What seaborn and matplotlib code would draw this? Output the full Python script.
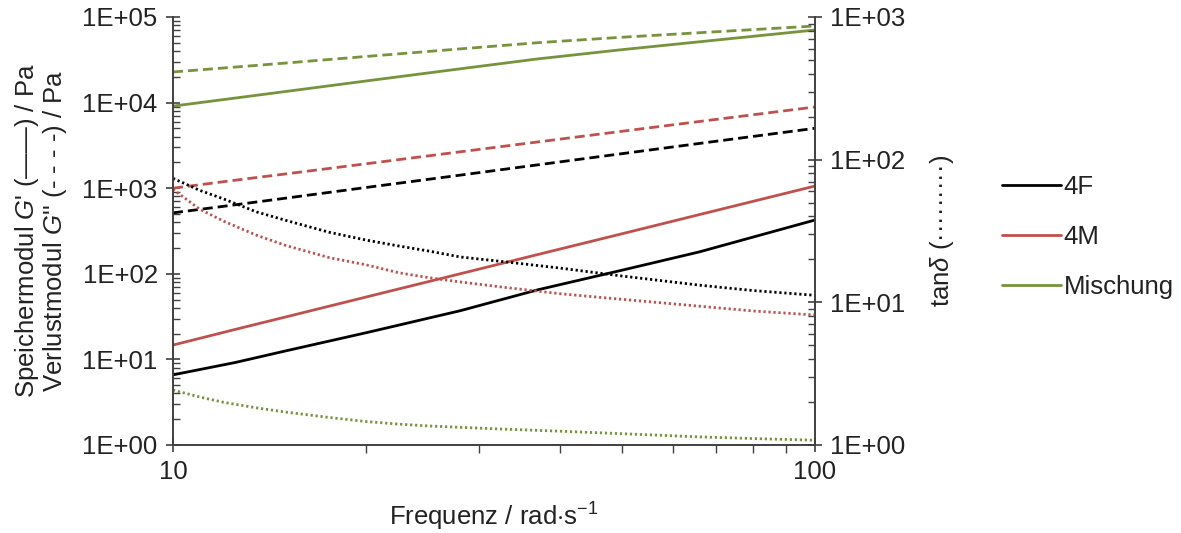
import numpy as np
import pandas as pd
import matplotlib
matplotlib.use("Agg")
import matplotlib.pyplot as plt
from matplotlib.lines import Line2D
from matplotlib.ticker import FixedLocator, FuncFormatter, LogLocator, NullFormatter
import seaborn as sns

# values (log-log)
probes = ["4F", "4M", "Mischung"]

freq = [10, 12.5, 15, 20, 28, 37, 50, 66, 100]
g1_4f = [6.6, 9.2, 12.6, 20.5, 37, 65, 110, 180, 425]
g1_4m = [14.7, 22.4, 31.4, 53.6, 100, 168, 293, 491, 1060]
g1_mix = [9100, 11300, 13500, 17900, 24800, 32400, 41500, 51300, 70500]
g2_4f = [515, 640, 766, 1020, 1420, 1875, 2530, 3330, 5010]
g2_4m = [1000, 1240, 1470, 1930, 2660, 3470, 4620, 6010, 8890]
g2_mix = [22800, 26000, 29000, 34600, 42400, 50100, 58000, 65500, 78500]

freq_tan = [10, 11, 12, 13.5, 15, 17.5, 20, 22.5, 25, 28, 33, 40, 50, 66, 80, 100]
tan_4f = [74, 61, 53, 43, 37.5, 31, 27.3, 24.8, 22.9, 20.8, 19.2, 17.4, 15.3, 13.2, 12.1, 11.2]
tan_4m = [62, 45, 37, 29.5, 25, 20.6, 18.3, 16.1, 14.9, 13.9, 12.7, 11.5, 10.5, 9.4, 8.7, 8.15]
tan_mix = [2.43, 2.17, 1.99, 1.82, 1.70, 1.56, 1.46, 1.40, 1.36, 1.33, 1.29, 1.25, 1.20, 1.14, 1.11, 1.08]

colors = {"4F": "#000000", "4M": "#c0504d", "Mischung": "#77933c"}


def long_df(x, a, b, c):
    return pd.DataFrame({
        "freq": x * 3,
        "wert": a + b + c,
        "probe": [p for p in probes for _ in x],
    })


df_g1 = long_df(freq, g1_4f, g1_4m, g1_mix)
df_g2 = long_df(freq, g2_4f, g2_4m, g2_mix)
df_tan = long_df(freq_tan, tan_4f, tan_4m, tan_mix)

sns.set_style("ticks")
plt.rcParams["font.family"] = ["Liberation Sans", "DejaVu Sans"]
plt.rcParams["mathtext.fontset"] = "custom"
plt.rcParams["mathtext.rm"] = "Liberation Sans"
plt.rcParams["mathtext.it"] = "Liberation Sans:italic"
fs = 18.5
txtcol = "#222222"
plt.rcParams["font.size"] = fs
plt.rcParams["text.color"] = txtcol
plt.rcParams["axes.labelcolor"] = txtcol
plt.rcParams["xtick.labelcolor"] = txtcol
plt.rcParams["ytick.labelcolor"] = txtcol
axcol = "#404040"

fig = plt.figure(figsize=(11.81, 5.33), dpi=100)
ax = fig.add_axes([173 / 1181, 88 / 533, 642 / 1181, 428 / 533])
ax2 = ax.twinx()

lw = 2.0
sns.lineplot(data=df_g1, x="freq", y="wert", hue="probe", palette=colors,
             ax=ax, legend=False, lw=lw)
sns.lineplot(data=df_g2, x="freq", y="wert", hue="probe", palette=colors,
             ax=ax, legend=False, lw=lw, linestyle=(0, (3.6, 1.8)))
sns.lineplot(data=df_tan, x="freq", y="wert", hue="probe", palette=colors,
             ax=ax2, legend=False, lw=lw, linestyle=(0, (0.8, 1.0)))

for a in (ax, ax2):
    a.set_xscale("log")
    a.set_yscale("log")
    a.set_xlim(10, 100)
    for s in a.spines.values():
        s.set_color(axcol)
        s.set_linewidth(1.2)
    a.spines["top"].set_visible(False)

ax.set_ylim(1, 1e5)
ax2.set_ylim(1, 1e3)

fmt = FuncFormatter(lambda v, p: "1E+%02d" % int(round(np.log10(v))))
ax.yaxis.set_major_locator(FixedLocator([10.0 ** k for k in range(6)]))
ax.yaxis.set_minor_locator(LogLocator(base=10, subs=np.arange(2, 10), numticks=20))
ax.yaxis.set_major_formatter(fmt)
ax.yaxis.set_minor_formatter(NullFormatter())
ax2.yaxis.set_major_locator(FixedLocator([10.0 ** k for k in range(4)]))
ax2.yaxis.set_minor_locator(LogLocator(base=10, subs=np.arange(2, 10), numticks=20))
ax2.yaxis.set_major_formatter(fmt)
ax2.yaxis.set_minor_formatter(NullFormatter())

ax.xaxis.set_major_locator(FixedLocator([10, 100]))
ax.xaxis.set_major_formatter(FuncFormatter(lambda v, p: "%d" % v))
ax.xaxis.set_minor_locator(FixedLocator([20, 30, 40, 50, 60, 70, 80, 90]))
ax.xaxis.set_minor_formatter(NullFormatter())

ax.tick_params(axis="both", which="major", direction="inout", length=10,
               width=1.2, color=axcol, labelsize=fs, pad=6)
ax.tick_params(axis="y", which="minor", direction="in", length=5, width=1, color=axcol)
ax.tick_params(axis="x", which="minor", direction="out", length=6, width=1, color=axcol)
ax2.tick_params(axis="y", which="major", direction="inout", length=10,
                width=1.2, color=axcol, labelsize=fs, pad=6)
ax2.tick_params(axis="y", which="minor", direction="in", length=5, width=1, color=axcol)

ax.set_xlabel(r"Frequenz / rad$\cdot$s$^{-1}$", labelpad=12)
ax.set_ylabel("Speichermodul $\\mathit{G}$' (——) / Pa\n"
              "Verlustmodul $\\mathit{G}$'' (- - - -) / Pa", linespacing=1.0, labelpad=10)
ax2.set_ylabel(r"tan$\mathit{\delta}$ (·········)", labelpad=16)

handles = [Line2D([], [], color=colors[p], lw=lw) for p in probes]
fig.legend(handles, probes, loc="center left", bbox_to_anchor=(1002 / 1181, 1 - 237 / 533),
           frameon=False, borderpad=0, borderaxespad=0, handlelength=2.3,
           handletextpad=0.1, labelspacing=1.0, fontsize=fs)

fig.savefig("out.png", dpi=100)
